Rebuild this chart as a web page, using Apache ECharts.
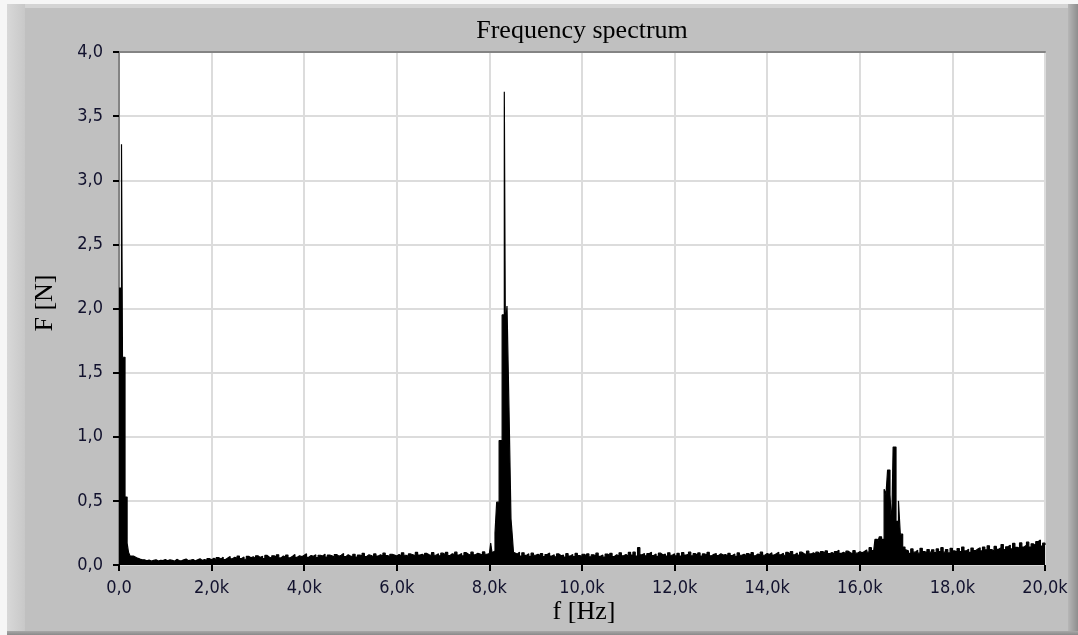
<!DOCTYPE html>
<html>
<head>
<meta charset="utf-8">
<script src="https://cdn.jsdelivr.net/npm/echarts@6/dist/echarts.min.js"></script>
<style>
  html, body { margin: 0; padding: 0; width: 1078px; height: 635px; overflow: hidden; background: #f6f6f6; }
  #panel { position: absolute; left: 7px; top: 4px; width: 1071px; height: 631px; background: #c0c0c0; }
  #bt { position: absolute; left: 0; top: 0; width: 100%; height: 4px; background: #d4d4d4; }
  #bl { position: absolute; left: 0; top: 0; width: 18px; height: 100%; background: linear-gradient(to right, #d8d8d8, #c8c8c8); }
  #br { position: absolute; right: 0; top: 0; width: 10px; height: 100%; background: linear-gradient(to right, #b6b6b6, #8e8e8e); }
  #bb { position: absolute; left: 0; bottom: 0; width: 100%; height: 4px; background: linear-gradient(to bottom, #a8a8a8, #8a8a8a); }
  #chart { position: absolute; left: 0; top: 0; width: 1078px; height: 635px; }
</style>
</head>
<body>
<div id="panel"><div id="bt"></div><div id="bl"></div><div id="br"></div><div id="bb"></div></div>
<div id="chart"></div>
<script>
// ---- Data (frequency in Hz, force amplitude in N) ----
const xTicks = [0, 2000, 4000, 6000, 8000, 10000, 12000, 14000, 16000, 18000, 20000];
const yTicks = [0, 0.5, 1.0, 1.5, 2.0, 2.5, 3.0, 3.5, 4.0];

// low-frequency peak
const peakLowF = [0, 54, 75, 130, 175, 205, 238, 310, 382, 454];
const peakLowV = [2.16, 3.28, 1.62, 0.53, 0.17, 0.10, 0.07, 0.057, 0.046, 0.04];

// noise floor 500 .. 7950 Hz, 50 Hz spacing
const noiseAStart = 500;
const noiseA = [
  0.04,0.032,0.038,0.03,0.036,0.04,0.031,0.037,0.034,0.042,
  0.032,0.04,0.036,0.03,0.044,0.035,0.032,0.04,0.046,0.034,0.038,0.043,0.032,0.04,0.048,0.036,0.042,0.034,0.05,0.04,
  0.052,0.04,0.058,0.046,0.06,0.043,0.055,0.066,0.048,0.06,0.052,0.07,0.05,0.062,0.045,0.068,0.056,0.065,0.05,0.072,
  0.058,0.068,0.05,0.075,0.06,0.054,0.072,0.062,0.08,0.055,0.07,0.06,0.078,0.056,0.068,0.082,0.06,0.072,0.065,0.076,
  0.088,0.06,0.074,0.068,0.08,0.058,0.076,0.07,0.085,0.062,0.078,0.072,0.06,0.082,0.068,0.076,0.09,0.065,0.08,0.07,
  0.068,0.084,0.062,0.078,0.072,0.09,0.066,0.08,0.074,0.062,0.086,0.07,0.08,0.068,0.092,0.074,0.066,0.084,0.078,0.07,
  0.082,0.07,0.095,0.076,0.068,0.086,0.08,0.072,0.098,0.078,0.084,0.07,0.09,0.08,0.074,0.096,0.076,0.088,0.072,0.092,
  0.08,0.098,0.074,0.088,0.082,0.1,0.078,0.09,0.072,0.096,0.084,0.076,0.1,0.08,0.092,0.086,0.075,0.102,0.084,0.09
];

// peak around 8.3 kHz
const peak8F = [8000, 8028, 8056, 8090, 8121, 8157, 8210, 8275, 8322, 8344, 8380, 8423, 8466, 8490, 8520];
const peak8V = [0.09, 0.17, 0.095, 0.11, 0.25, 0.49, 0.97, 1.95, 3.69, 1.85, 2.02, 1.22, 0.36, 0.25, 0.1];

// noise floor 8550 .. 16300 Hz, 50 Hz spacing
const noiseBStart = 8550;
const noiseB = [
  0.085,0.1,0.07,0.095,0.075,0.088,0.068,0.092,0.076,0.084,
  0.07,0.088,0.066,0.082,0.094,0.07,0.08,0.064,0.086,0.072,0.078,0.062,0.088,0.07,0.082,0.066,0.09,0.074,0.068,0.084,
  0.07,0.086,0.064,0.08,0.072,0.092,0.068,0.078,0.062,0.085,0.074,0.09,0.066,0.08,0.07,0.095,0.072,0.082,0.068,0.098,
  0.078,0.1,0.07,0.135,0.08,0.09,0.072,0.088,0.1,0.074,0.085,0.068,0.092,0.078,0.086,0.07,0.095,0.076,0.088,0.072,
  0.09,0.07,0.096,0.078,0.084,0.1,0.072,0.088,0.076,0.094,0.07,0.086,0.08,0.098,0.072,0.084,0.09,0.074,0.088,0.078,
  0.082,0.07,0.09,0.074,0.086,0.068,0.094,0.076,0.084,0.07,0.088,0.078,0.096,0.072,0.085,0.08,0.1,0.076,0.09,0.082,
  0.095,0.078,0.088,0.1,0.08,0.092,0.076,0.098,0.084,0.105,0.08,0.094,0.078,0.1,0.088,0.082,0.108,0.086,0.095,0.08,
  0.1,0.085,0.105,0.09,0.11,0.088,0.098,0.084,0.104,0.115,0.09,0.1,0.086,0.108,0.095,0.088,0.112,0.092,0.104,0.096,
  0.105,0.118,0.1,0.135,0.112,0.125
];

// peak around 16.7 kHz
const peak16F = [16328, 16380, 16422, 16470, 16525, 16566, 16600, 16652, 16688, 16720, 16782, 16835, 16875, 16926, 16976];
const peak16V = [0.20, 0.17, 0.22, 0.20, 0.59, 0.55, 0.74, 0.55, 0.28, 0.92, 0.34, 0.50, 0.24, 0.14, 0.12];

// noise floor 17000 .. 20000 Hz, 50 Hz spacing
const noiseCStart = 17000;
const noiseC = [
  0.11,0.09,0.125,0.1,0.115,0.092,0.13,0.105,0.095,0.12,0.1,
  0.118,0.096,0.125,0.104,0.135,0.1,0.12,0.094,0.13,0.11,0.1,0.128,0.104,0.14,0.11,0.122,0.098,0.132,0.112,0.125,
  0.135,0.11,0.14,0.118,0.15,0.12,0.108,0.145,0.122,0.135,0.16,0.12,0.142,0.155,0.125,0.168,0.138,0.13,0.172,0.14,
  0.155,0.178,0.14,0.165,0.15,0.182,0.195,0.148,0.17,0.155
];
const noiseStep = 50;

// ---- build series data ----
const pts = [];
peakLowF.forEach((f, i) => pts.push([f, peakLowV[i]]));
noiseA.forEach((v, i) => pts.push([noiseAStart + i * noiseStep, v]));
peak8F.forEach((f, i) => pts.push([f, peak8V[i]]));
noiseB.forEach((v, i) => pts.push([noiseBStart + i * noiseStep, v]));
peak16F.forEach((f, i) => pts.push([f, peak16V[i]]));
noiseC.forEach((v, i) => pts.push([noiseCStart + i * noiseStep, v]));
pts.sort((a, b) => a[0] - b[0]);

const labelFont = "'DejaVu Sans Condensed', 'DejaVu Sans', sans-serif";
const labelColor = '#12122e';
const serifFont = "26px 'Liberation Serif', 'DejaVu Serif', serif";
const fmtY = v => v.toFixed(1).replace('.', ',');
const fmtX = v => v === 0 ? '0,0' : (v / 1000).toFixed(1).replace('.', ',') + 'k';

const xMin = xTicks[0], xMax = xTicks[xTicks.length - 1], xInt = xTicks[1] - xTicks[0];
const yMin = yTicks[0], yMax = yTicks[yTicks.length - 1], yInt = yTicks[1] - yTicks[0];

const chart = echarts.init(document.getElementById('chart'), null, { renderer: 'canvas' });
chart.setOption({
  animation: false,
  backgroundColor: 'transparent',
  grid: { left: 119, right: 33, top: 52, bottom: 70, show: true, backgroundColor: '#ffffff', borderWidth: 0 },
  xAxis: [
    { type: 'value', min: xMin, max: xMax, interval: xInt, position: 'bottom',
      axisLine: { show: false }, axisTick: { show: false }, axisLabel: { show: false },
      splitLine: { show: true, lineStyle: { color: '#dcdcdc', width: 2 } } },
    { type: 'value', min: xMin, max: xMax, interval: xInt, position: 'bottom', offset: 4,
      axisLine: { show: false }, splitLine: { show: false },
      axisTick: { show: true, length: 6, lineStyle: { color: '#000', width: 2 } },
      axisLabel: { show: true, formatter: fmtX, margin: 10, fontFamily: labelFont, fontSize: 18, color: labelColor } },
    { type: 'value', min: xMin, max: xMax, interval: xInt, position: 'top',
      axisLine: { show: true, lineStyle: { color: '#848484', width: 2 } },
      axisTick: { show: false }, axisLabel: { show: false }, splitLine: { show: false } }
  ],
  yAxis: [
    { type: 'value', min: yMin, max: yMax, interval: yInt, position: 'left',
      axisLine: { show: true, lineStyle: { color: '#848484', width: 2 } },
      axisTick: { show: false }, axisLabel: { show: false },
      splitLine: { show: true, lineStyle: { color: '#dcdcdc', width: 2 } } },
    { type: 'value', min: yMin, max: yMax, interval: yInt, position: 'left', offset: 5,
      axisLine: { show: false }, splitLine: { show: false },
      axisTick: { show: true, length: 6, lineStyle: { color: '#000', width: 2 } },
      axisLabel: { show: true, formatter: fmtY, margin: 11, fontFamily: labelFont, fontSize: 18, color: labelColor } }
  ],
  graphic: [
    { type: 'text', x: 582, y: 31, style: { text: 'Frequency spectrum', font: serifFont, fill: '#000', textAlign: 'center', textVerticalAlign: 'middle' } },
    { type: 'text', x: 584, y: 612, style: { text: 'f [Hz]', font: serifFont, fill: '#000', textAlign: 'center', textVerticalAlign: 'middle' } },
    { type: 'text', x: 45, y: 303, rotation: Math.PI / 2, style: { text: 'F [N]', font: serifFont, fill: '#000', textAlign: 'center', textVerticalAlign: 'middle' } }
  ],
  series: [{
    type: 'line', xAxisIndex: 0, yAxisIndex: 0, data: pts, step: 'end',
    showSymbol: false, symbol: 'none', sampling: null, clip: true,
    lineStyle: { color: '#000', width: 1.2 },
    areaStyle: { color: '#000', opacity: 1 }
  }]
});
</script>
</body>
</html>
